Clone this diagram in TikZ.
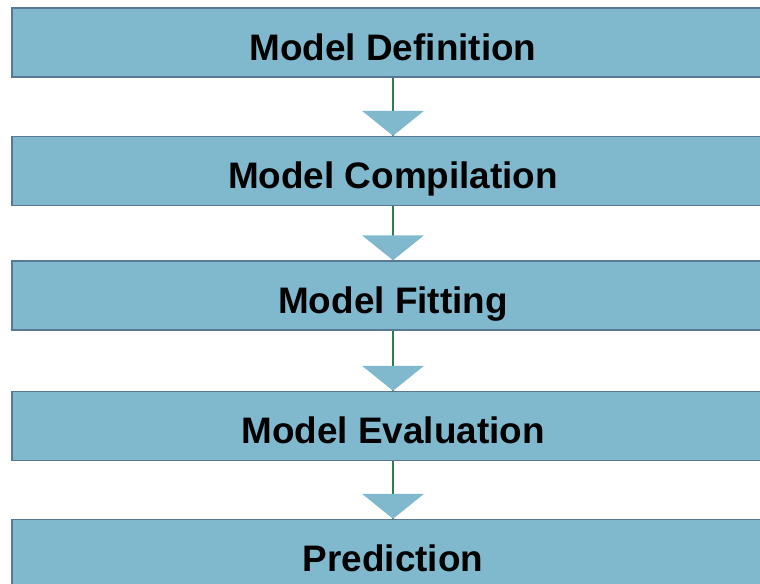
\documentclass[tikz,border=0pt]{standalone}
\usepackage{fontspec}
\setmainfont{Liberation Sans}
\definecolor{boxblue}{RGB}{128,184,206}
\definecolor{boxedge}{RGB}{88,120,150}
\definecolor{stemgreen}{RGB}{46,125,80}
\begin{document}
\begin{tikzpicture}[x=0.02cm,y=-0.02cm,
	stagebox/.style={rectangle, fill=boxblue, draw=boxedge, line width=0.8pt,
		minimum width=15.24cm, minimum height=1.38cm, inner sep=0pt,
		text height=0.70cm, text depth=0cm,
		font=\fontsize{21}{25}\selectfont\bfseries},
	stem/.style={stemgreen, line width=1pt},
	head/.style={fill=boxblue}]
		\useasboundingbox (0,0) rectangle (760,583);
		\clip (0,0) rectangle (760,583);

		\node [stagebox] (Definition) at (393,42.5) {Model Definition};
		\node [stagebox] (Compilation) at (393,171) {Model Compilation};
		\node [stagebox] (Fitting) at (393,295.5) {Model Fitting};
		\node [stagebox] (Evaluation) at (393,426) {Model Evaluation};
		\node [stagebox] (Prediction) at (393,554) {Prediction};

		\foreach \from/\to in {Definition/Compilation, Compilation/Fitting,
			Fitting/Evaluation, Evaluation/Prediction} {
			\draw [stem] (\from.south) -- (\to.north);% stem of the arrow
			\fill [head] (\to.north) -- ++(-31,-25) -- ++(62,0) -- cycle;% head
		}
	\end{tikzpicture}
\end{document}
